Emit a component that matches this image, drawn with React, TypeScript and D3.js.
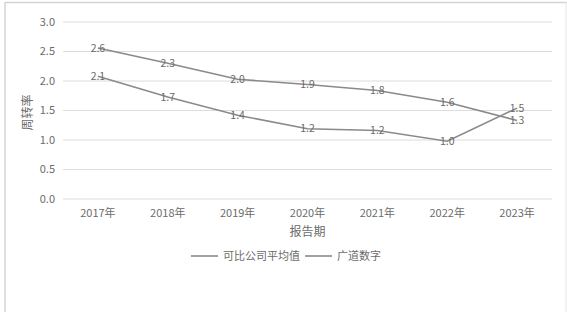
import React from "react";
import * as d3 from "d3";

const categories = ["2017年", "2018年", "2019年", "2020年", "2021年", "2022年", "2023年"];
const seriesNames = ["可比公司平均值", "广道数字"];
const seriesA = [2.56, 2.3, 2.03, 1.94, 1.84, 1.64, 1.33];
const seriesB = [2.08, 1.73, 1.42, 1.19, 1.16, 0.98, 1.54];
const yTicks = [0, 0.5, 1.0, 1.5, 2.0, 2.5, 3.0];

const W = 567;
const H = 312;
const M = { left: 63, right: 552, top: 22, bottom: 199 };
const FONT = "'Noto Sans CJK SC', 'Noto Sans', sans-serif";
const LINE = "#8a8a8a";
const TEXT = "#6b6b6b";
const GRID = "#dcdcdc";

export default function App() {
  const x = d3.scaleBand<string>().domain(categories).range([M.left, M.right]);
  const y = d3.scaleLinear().domain([0, 3]).range([M.bottom, M.top]);
  const cx = (c: string) => (x(c) ?? 0) + x.bandwidth() / 2;
  const line = d3
    .line<number>()
    .x((_, i) => cx(categories[i]))
    .y((d) => y(d));
  const series = [seriesA, seriesB];

  return (
    <div style={{ position: "absolute", left: 0, top: 0, width: W, height: H, background: "#fff" }}>
      <svg width={W} height={H} style={{ display: "block" }} fontFamily={FONT}>
        <rect x={0} y={0} width={W} height={H} fill="#fff" />
        {/* chart border */}
        <line x1={5} x2={5} y1={2} y2={H} stroke="#d4d4d4" strokeWidth={1.5} />
        <line x1={5} x2={W} y1={2.5} y2={2.5} stroke="#d4d4d4" strokeWidth={1.5} />
        <line x1={566} x2={566} y1={2} y2={H} stroke="#e6e6e6" strokeWidth={1} />
        {/* gridlines */}
        {yTicks.map((t) => (
          <g key={t}>
            <line x1={M.left} x2={M.right} y1={y(t)} y2={y(t)} stroke={GRID} strokeWidth={1} />
            <text x={55} y={y(t)} dy="0.35em" textAnchor="end" fontSize={11} fill={TEXT}>
              {t.toFixed(1)}
            </text>
          </g>
        ))}
        {/* x labels */}
        {categories.map((c) => (
          <text key={c} x={cx(c)} y={213} dy="0.35em" textAnchor="middle" fontSize={11} fill={TEXT}>
            {c}
          </text>
        ))}
        <text x={(M.left + M.right) / 2} y={232} dy="0.35em" textAnchor="middle" fontSize={12} fill={TEXT}>
          报告期
        </text>
        <text
          transform={`translate(28,${(M.top + M.bottom) / 2 + 2}) rotate(-90)`}
          textAnchor="middle"
          dy="0.35em"
          fontSize={12}
          fill={TEXT}
        >
          周转率
        </text>
        {/* lines */}
        {series.map((s, k) => (
          <path key={k} d={line(s) ?? ""} fill="none" stroke={LINE} strokeWidth={1.6} />
        ))}
        {/* data labels */}
        {series.map((s, k) =>
          s.map((v, i) => (
            <text
              key={`${k}-${i}`}
              x={cx(categories[i])}
              y={y(v)}
              dy="0.35em"
              textAnchor="middle"
              fontSize={10.5}
              fill={TEXT}
            >
              {v.toFixed(1)}
            </text>
          ))
        )}
        {/* legend */}
        {seriesNames.map((n, k) => {
          const lx = k === 0 ? 191 : 305;
          return (
            <g key={n}>
              <line x1={lx} x2={lx + 27} y1={256} y2={256} stroke={LINE} strokeWidth={1.6} />
              <text x={lx + 32} y={256} dy="0.35em" fontSize={11} fill={TEXT}>
                {n}
              </text>
            </g>
          );
        })}
      </svg>
    </div>
  );
}
